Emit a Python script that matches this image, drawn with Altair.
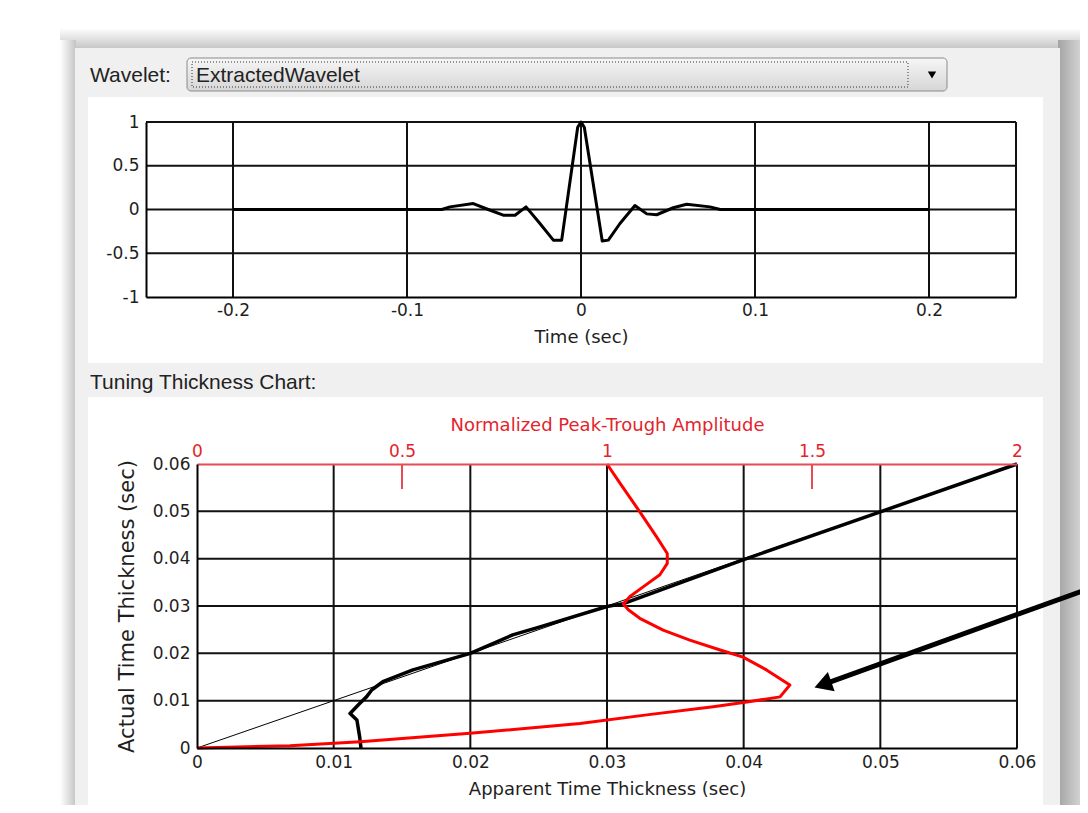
import altair as alt
import pandas as pd

# ---------------- data ----------------
wavelet_time = [-0.2, -0.08, -0.0753, -0.0619, -0.0533, -0.0447, -0.0379, -0.0316, -0.0236,
                -0.0159, -0.0111, -0.0019, 0.0, 0.0019, 0.0122, 0.0157, 0.0224, 0.0310,
                0.0378, 0.0435, 0.0530, 0.0607, 0.0741, 0.08, 0.2]
wavelet_amp = [0.0, 0.0, 0.03, 0.068, 0.0, -0.065, -0.065, 0.03, -0.16,
               -0.35, -0.35, 0.94, 1.0, 0.94, -0.36, -0.35, -0.16, 0.045,
               -0.05, -0.06, 0.02, 0.06, 0.03, 0.0, 0.0]

apparent_thk = [0.0120, 0.0119, 0.0117, 0.0112, 0.0119, 0.0124, 0.0128, 0.0136, 0.0158,
                0.0200, 0.0231, 0.0251, 0.0300, 0.0312, 0.0400, 0.0500, 0.0600]
actual_thk = [0.0, 0.0024, 0.0059, 0.0073, 0.0094, 0.0108, 0.0123, 0.0140, 0.0165,
              0.0200, 0.0239, 0.0256, 0.0299, 0.0305, 0.0398, 0.0499, 0.0600]

peak_trough_amp = [1.0, 1.032, 1.080, 1.121, 1.147, 1.147, 1.129, 1.089, 1.056, 1.040,
                   1.052, 1.080, 1.137, 1.202, 1.276, 1.332, 1.389, 1.446, 1.422, 1.341,
                   1.259, 1.097, 0.934, 0.666, 0.398, 0.227, 0.0]
amp_actual = [0.0600, 0.0559, 0.0499, 0.0446, 0.0411, 0.0390, 0.0366, 0.0341, 0.0320, 0.0304,
              0.0292, 0.0274, 0.0249, 0.0228, 0.0207, 0.0192, 0.0165, 0.0133, 0.0108, 0.0097,
              0.0087, 0.0070, 0.0052, 0.0031, 0.00133, 0.00049, 0.0]

diag_thk = [0.0, 0.06]

wave_xticks = [-0.2, -0.1, 0, 0.1, 0.2]
wave_yticks = [-1, -0.5, 0, 0.5, 1]
thk_ticks = [0, 0.01, 0.02, 0.03, 0.04, 0.05, 0.06]
amp_ticks = [0, 0.5, 1, 1.5, 2]
amp_inner_ticks = [0.5, 1.5]

arrow_apparent = [0.0650, 0.0460]
arrow_actual = [0.0334, 0.0136]

# ---------------- layout ----------------
W, H, M = 1072, 797, 8
ONE = pd.DataFrame({"k": [0]})

WX = alt.Scale(domain=[-0.25, 0.25], range=[138, 1008], nice=False, zero=False)
WY = alt.Scale(domain=[-1, 1], range=[289, 114], nice=False, zero=False)
TX = alt.Scale(domain=[0, 0.06], range=[189, 1009], nice=False, zero=False)
TY = alt.Scale(domain=[0, 0.06], range=[740, 456], nice=False, zero=False)
AX = alt.Scale(domain=[0, 2], range=[189, 1009], nice=False, zero=False)

FONT = "DejaVu Sans"
UIFONT = "Liberation Sans"
RED = "#e3242b"
LBL = "'' + datum.value"


def box(x0, y0, x1, y1, **kw):
    return alt.Chart(ONE).mark_rect(**kw).encode(
        x=alt.value(x0 - M), x2=alt.value(x1 - M), y=alt.value(y0 - M), y2=alt.value(y1 - M))


def grad(c0, c1, horizontal):
    return alt.LinearGradient(
        gradient="linear",
        stops=[alt.GradientStop(offset=0, color=c0), alt.GradientStop(offset=1, color=c1)],
        x1=0, y1=0, x2=1 if horizontal else 0, y2=0 if horizontal else 1)


def label(txt, x, y, **kw):
    return alt.Chart(ONE).mark_text(text=txt, align="left", baseline="alphabetic", **kw).encode(
        x=alt.value(x - M), y=alt.value(y - M))


deco = [
    box(60, 28, 1088, 50, color=grad("#ffffff", "#c2c2c2", False)),
    box(60, 40, 76, 813, color=grad("#ffffff", "#c4c4c4", True)),
    box(1058, 40, 1088, 813, color=grad("#a4a4a4", "#e2e2e2", True)),
    box(75, 48, 1060, 813, color="#f0f0f0"),
    box(88, 97, 1043, 363, color="#ffffff"),
    box(88, 397, 1043, 813, color="#ffffff"),
    box(187, 58, 947, 91, color=grad("#f6f6f6", "#d6d6d6", False), stroke="#8a8a8a",
        strokeWidth=1, cornerRadius=4),
    box(192, 62, 908, 87, fillOpacity=0, stroke="#333333", strokeWidth=1, strokeDash=[1, 2]),
    alt.Chart(ONE).mark_point(shape="triangle-down", filled=True, size=70, color="#000",
                              opacity=1).encode(x=alt.value(932 - M), y=alt.value(75 - M)),
    label("Wavelet:", 90, 82, font=UIFONT, fontSize=21, color="#222"),
    label("ExtractedWavelet", 196, 82, font=UIFONT, fontSize=21, color="#222"),
    label("Tuning Thickness Chart:", 90, 389, font=UIFONT, fontSize=21, color="#222"),
]

# ---------------- wavelet panel ----------------
wgx = pd.DataFrame({"t": wave_xticks + [0.25], "lo": -1, "hi": 1})
wgy = pd.DataFrame({"a": wave_yticks[1:], "lo": -0.25, "hi": 0.25})
GRID = dict(color="#111111", strokeWidth=2)

wave_grid_x = alt.Chart(wgx).mark_rule(**GRID).encode(
    x=alt.X("t:Q", scale=WX, axis=None), y=alt.Y("lo:Q", scale=WY, axis=None), y2="hi:Q")
wave_grid_y = alt.Chart(wgy).mark_rule(**GRID).encode(
    y=alt.Y("a:Q", scale=WY, axis=None), x=alt.X("lo:Q", scale=WX, axis=None), x2="hi:Q")

df_wave = pd.DataFrame({"t": wavelet_time, "a": wavelet_amp, "i": range(len(wavelet_time))})
wave_line = alt.Chart(df_wave).mark_line(color="#000", strokeWidth=3, strokeJoin="round").encode(
    x=alt.X("t:Q", scale=WX, axis=alt.Axis(
        orient="bottom", offset=-(H - 289), values=wave_xticks, title="Time (sec)",
        labelExpr=LBL, labelPadding=5, titlePadding=10, grid=False, ticks=False,
        labelFlush=False, zindex=1)),
    y=alt.Y("a:Q", scale=WY, axis=alt.Axis(
        orient="left", offset=-138, values=wave_yticks, title=None, labelExpr=LBL,
        labelPadding=7, grid=False, ticks=False, labelFlush=False, zindex=1)),
    order="i:Q")

# ---------------- tuning panel ----------------
tgx = pd.DataFrame({"v": thk_ticks[1:], "lo": 0.0, "hi": 0.06})
tgy = pd.DataFrame({"v": thk_ticks[1:-1], "lo": 0.0, "hi": 0.06})
tune_grid_x = alt.Chart(tgx).mark_rule(**GRID).encode(
    x=alt.X("v:Q", scale=TX, axis=None), y=alt.Y("lo:Q", scale=TY, axis=None), y2="hi:Q")
tune_grid_y = alt.Chart(tgy).mark_rule(**GRID).encode(
    y=alt.Y("v:Q", scale=TY, axis=None), x=alt.X("lo:Q", scale=TX, axis=None), x2="hi:Q")

df_diag = pd.DataFrame({"x": diag_thk, "y": diag_thk})
diag_line = alt.Chart(df_diag).mark_line(color="#000", strokeWidth=1).encode(
    x=alt.X("x:Q", scale=TX, axis=None), y=alt.Y("y:Q", scale=TY, axis=None))

df_black = pd.DataFrame({"x": apparent_thk, "y": actual_thk, "i": range(len(actual_thk))})
black_line = alt.Chart(df_black).mark_line(color="#000", strokeWidth=3.5, strokeJoin="round").encode(
    x=alt.X("x:Q", scale=TX, axis=alt.Axis(
        orient="bottom", offset=-(H - 740), values=thk_ticks,
        title="Apparent Time Thickness (sec)", labelExpr=LBL, labelPadding=6,
        titlePadding=10, grid=False, ticks=False, labelFlush=False, zindex=1)),
    y=alt.Y("y:Q", scale=TY, axis=alt.Axis(
        orient="left", offset=-189, values=thk_ticks, title="Actual Time Thickness (sec)",
        titleFontSize=21, labelExpr=LBL, labelPadding=7, titlePadding=15, grid=False,
        ticks=False, labelFlush=False, zindex=1)),
    order="i:Q")

df_red = pd.DataFrame({"x": peak_trough_amp, "y": amp_actual, "i": range(len(amp_actual))})
red_line = alt.Chart(df_red).mark_line(color="#ff0000", strokeWidth=3, strokeJoin="round").encode(
    x=alt.X("x:Q", scale=AX, axis=alt.Axis(
        orient="top", offset=-456, values=amp_ticks, title="Normalized Peak-Trough Amplitude",
        labelExpr=LBL, labelPadding=4, titlePadding=8, grid=False, ticks=False,
        labelFlush=False, labelColor=RED, titleColor=RED, domainColor="#e84a56", zindex=1)),
    y=alt.Y("y:Q", scale=TY, axis=None),
    order="i:Q")

df_rt = pd.DataFrame({"x": amp_inner_ticks, "lo": 0.0547, "hi": 0.06})
red_ticks = alt.Chart(df_rt).mark_rule(color="#e84a56", strokeWidth=2).encode(
    x=alt.X("x:Q", scale=AX, axis=None), y=alt.Y("lo:Q", scale=TY, axis=None), y2="hi:Q")

df_arrow = pd.DataFrame({"x": arrow_apparent, "y": arrow_actual})
arrow_shaft = alt.Chart(df_arrow).mark_line(color="#000", strokeWidth=5).encode(
    x=alt.X("x:Q", scale=TX, axis=None), y=alt.Y("y:Q", scale=TY, axis=None))
arrow_head = alt.Chart(df_arrow.iloc[[1]]).mark_point(
    shape="triangle", angle=250.6, size=420, filled=True, color="#000", opacity=1).encode(
    x=alt.X("x:Q", scale=TX, axis=None), y=alt.Y("y:Q", scale=TY, axis=None))

layers = deco + [wave_grid_x, wave_grid_y, wave_line,
                 tune_grid_x, tune_grid_y, diag_line, black_line, red_line, red_ticks,
                 arrow_shaft, arrow_head]

chart = alt.layer(*layers).resolve_scale(
    x="independent", y="independent", color="independent"
).properties(
    width=W, height=H, padding=0, background="#ffffff",
    autosize=alt.AutoSizeParams(type="none"),
).configure_view(stroke=None).configure_axis(
    labelFont=FONT, labelFontSize=17, labelColor="#1e1e1e",
    titleFont=FONT, titleFontSize=18, titleFontWeight="normal", titleColor="#1e1e1e",
    domainColor="#000000", domainWidth=2, labelOverlap=False,
)

chart.save("out.html", embed_options={"renderer": "svg", "actions": False})
